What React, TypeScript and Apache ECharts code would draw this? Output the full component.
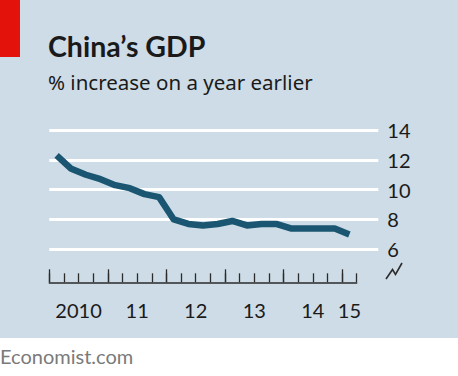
import React, { useEffect, useRef } from "react";
import * as echarts from "echarts";

const quarters = [
  "2010Q1", "2010Q2", "2010Q3", "2010Q4",
  "2011Q1", "2011Q2", "2011Q3", "2011Q4",
  "2012Q1", "2012Q2", "2012Q3", "2012Q4",
  "2013Q1", "2013Q2", "2013Q3", "2013Q4",
  "2014Q1", "2014Q2", "2014Q3", "2014Q4",
  "2015Q1",
];
const gdpGrowth = [
  12.3, 11.4, 11.0, 10.7,
  10.3, 10.1, 9.7, 9.5,
  8.0, 7.7, 7.6, 7.7,
  7.9, 7.6, 7.7, 7.7,
  7.4, 7.4, 7.4, 7.4,
  7.0,
];
const years = ["2010", "2011", "2012", "2013", "2014", "2015"];
const yearLabels = ["2010", "11", "12", "13", "14", "15"];
const yMin = 6;
const yMax = 14;
const yStep = 2;

const TITLE = "China\u2019s GDP";
const SUBTITLE = "% increase on a year earlier";
const SOURCE = "Economist.com";

const FONT = "Lato";
const SUB_FONT = "Noto Sans";
const INK = "#1a1a1a";
const BG = "#cddce6";
const LINE = "#1a5672";
const RED = "#e3120b";

export default function App() {
  const ref = useRef<HTMLDivElement>(null);

  useEffect(() => {
    if (!ref.current) return;
    const chart = echarts.init(ref.current, undefined, { renderer: "svg" });

    const n = quarters.length;
    const yearCenters = years.map((y) => {
      const idx = quarters
        .map((q, i) => (q.startsWith(y) ? i : -1))
        .filter((i) => i >= 0);
      return (idx[0] + idx[idx.length - 1] + 1) / 2;
    });
    const majorTicks = quarters
      .map((q, i) => (q.endsWith("Q1") ? i : -1))
      .filter((i) => i >= 0);
    const minorTicks = Array.from({ length: n + 1 }, (_, i) => i);

    const labelFor = (v: number) => {
      const k = yearCenters.findIndex((c) => Math.abs(c - v) < 1e-6);
      return k >= 0 ? yearLabels[k] : "";
    };

    chart.setOption({
      animation: false,
      backgroundColor: "#ffffff",
      graphic: [
        { type: "rect", z: -10, silent: true, shape: { x: 0, y: 0, width: 458, height: 338 }, style: { fill: BG } },
        { type: "rect", z: 5, silent: true, shape: { x: 0, y: 0, width: 20, height: 57 }, style: { fill: RED } },
        {
          type: "text", z: 5, x: 48, y: 45.5,
          style: { text: TITLE, fontFamily: FONT, fontWeight: "bold", fontSize: 28.5, fill: INK, verticalAlign: "middle" },
        },
        {
          type: "text", z: 5, x: 48, y: 81.5,
          style: { text: SUBTITLE, fontFamily: SUB_FONT, fontSize: 20.5, fill: INK, verticalAlign: "middle" },
        },
        {
          type: "text", z: 5, x: 0, y: 355.5,
          style: { text: SOURCE, fontFamily: FONT, fontSize: 20, fill: "#7a7a7a", verticalAlign: "middle" },
        },
        {
          type: "polyline", z: 5, silent: true,
          shape: { points: [[386, 279], [392.5, 269.5], [395.5, 274.5], [402, 263]] },
          style: { stroke: "#2b2b2b", lineWidth: 1.6, fill: "none" },
        },
      ],
      grid: [
        { left: 49.3, top: 130, width: 307.4, height: 119.3, containLabel: false },
        { left: 49.3, top: 130, width: 329, height: 119.3, containLabel: false },
      ],
      xAxis: [
        {
          type: "value", gridIndex: 0, position: "bottom", min: 0, max: n, offset: 33,
          axisLine: { show: true, lineStyle: { color: "#2b2b2b", width: 1.5 } },
          axisTick: { show: true, inside: true, length: 9, customValues: minorTicks, lineStyle: { color: "#2b2b2b", width: 1.3 } },
          axisLabel: {
            show: true, customValues: yearCenters, formatter: (v: number) => labelFor(v),
            margin: 18, fontSize: 20, fontFamily: FONT, color: INK,
          },
          splitLine: { show: false },
        },
        {
          type: "value", gridIndex: 0, position: "bottom", min: 0, max: n, offset: 33,
          axisLine: { show: false },
          axisTick: { show: true, inside: true, length: 13, customValues: majorTicks, lineStyle: { color: "#2b2b2b", width: 1.3 } },
          axisLabel: { show: false },
          splitLine: { show: false },
        },
        {
          type: "value", gridIndex: 1, min: 0, max: 1, show: false,
        },
      ],
      yAxis: [
        { type: "value", gridIndex: 0, min: yMin, max: yMax, show: false, splitLine: { show: false } },
        {
          type: "value", gridIndex: 1, min: yMin, max: yMax, interval: yStep, position: "right",
          axisLine: { show: false }, axisTick: { show: false },
          axisLabel: { margin: 9, fontSize: 20, fontFamily: FONT, color: INK },
          splitLine: { show: true, lineStyle: { color: "#ffffff", width: 3 } },
        },
      ],
      series: [
        {
          type: "line", xAxisIndex: 0, yAxisIndex: 0,
          data: gdpGrowth.map((v, i) => [i + 0.5, v]),
          showSymbol: false, symbol: "none",
          lineStyle: { color: LINE, width: 6.5, cap: "butt", join: "round" },
          z: 3,
        },
      ],
    });

    return () => chart.dispose();
  }, []);

  return (
    <div
      ref={ref}
      style={{ position: "absolute", left: 0, top: 0, width: 458, height: 376 }}
    />
  );
}
